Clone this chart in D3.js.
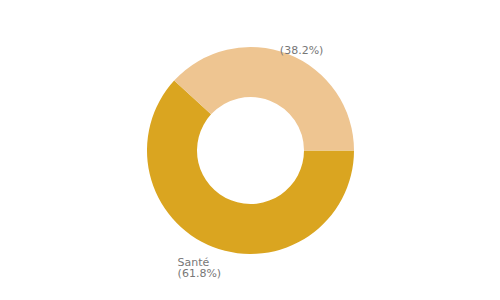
<!DOCTYPE html>
<html>
<head>
<meta charset="utf-8">
<script src="https://cdn.jsdelivr.net/npm/d3@7"></script>
<style>
  body { margin: 0; background: #fff; }
  text { font-family: "DejaVu Sans", sans-serif; }
</style>
</head>
<body>
<div class="chart"></div>
<script>
var names = ["Santé", ""];
var values = [61.8, 38.2];
var colors = ["#DAA520", "#EEC591"];

var width = 500,
    height = 300,
    cx = 250.5,
    cy = 150.5,
    outer = 103.5,
    inner = 53.5;

var svg = d3.select(".chart")
  .append("svg")
  .attr("width", width)
  .attr("height", height);

var g = svg.append("g")
  .attr("transform", "translate(" + cx + "," + cy + ")");

var pie = d3.pie()
  .sort(null)
  .startAngle(Math.PI / 2)
  .endAngle(Math.PI / 2 + 2 * Math.PI)
  .value(function(d) { return d; });

var arc = d3.arc().innerRadius(inner).outerRadius(outer);
var labelArc = d3.arc().innerRadius(108).outerRadius(108);

var slices = pie(values);

g.selectAll("path")
  .data(slices)
  .enter()
  .append("path")
  .attr("d", arc)
  .attr("fill", function(d, i) { return colors[i]; });

var labels = g.selectAll("text.lbl")
  .data(slices)
  .enter()
  .append("text")
  .attr("class", "lbl")
  .attr("text-anchor", "start")
  .style("font-size", "11px")
  .attr("fill", "#777");

labels.append("tspan")
  .attr("x", 0)
  .attr("y", 0)
  .text(function(d, i) { return names[i]; });

labels.append("tspan")
  .attr("x", 0)
  .attr("y", 11)
  .text(function(d, i) { return "(" + values[i].toFixed(1) + "%)"; });

// left-aligned block, centred on a point just outside the ring
labels.attr("transform", function(d) {
  var c = labelArc.centroid(d);
  var w = this.getBBox().width;
  var x = c[0] + (c[0] > 0 ? 12 : -12) - w / 2;
  var y = c[1] < 0 ? c[1] + 4 - 11 : c[1] + 15;
  return "translate(" + x + "," + y + ")";
});
</script>
</body>
</html>
